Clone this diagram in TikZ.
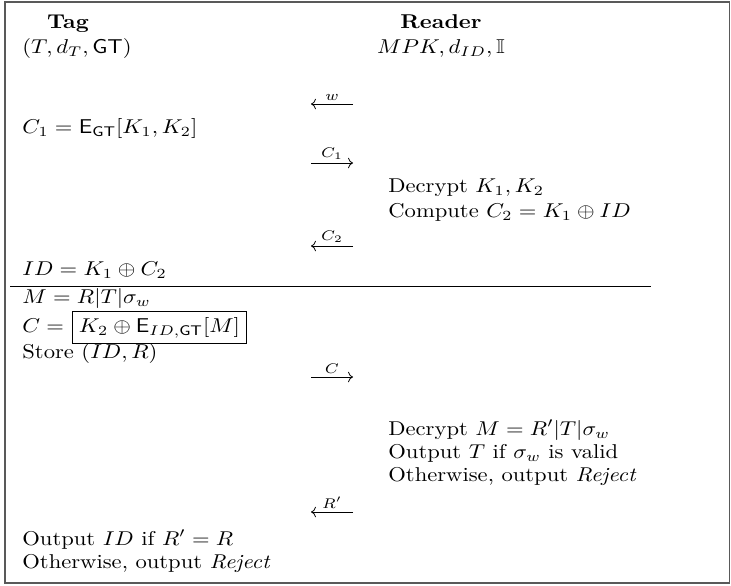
\documentclass[tikz,border=0pt]{standalone}
\usepackage{amsmath, amssymb}
\usepackage{graphicx}
\usepackage{tikz}
\usetikzlibrary{
  positioning,
  arrows.meta
}
% Text leicht in die Breite gezogen, wie in der Vorlage
\newcommand{\stretchx}[1]{\scalebox{1.13}[1]{#1}}

\begin{document}
\begin{tikzpicture}[
  x=0.5pt, y=-0.5pt,
  >={Computer Modern Rightarrow},
  txt/.style={anchor=base west, inner sep=0pt},
  head/.style={anchor=base, inner sep=0pt, font=\bfseries},
  msg/.style={->, line width=0.4pt},
  msglabel/.style={above=1.5pt, inner sep=0pt, font=\scriptsize}
]
  \useasboundingbox (0,0) rectangle (731,585);
  \draw[line width=0.9pt, black!65] (5,2) rectangle (729.5,583);

  % Kopfzeile
  \node[head] (tag) at (68,28) {\stretchx{Tag}};
  \node[head] (reader) at (441,28) {\stretchx{Reader}};
  \node[txt] (tagkeys) at (22,53) {\stretchx{$(T, d_T, \mathsf{GT})$}};
  \node[anchor=base, inner sep=0pt] (readerkeys) at (441,53) {\stretchx{$MPK, d_{ID}, \mathbb{I}$}};

  % erste Runde
  \coordinate (wR) at (353,104);
  \coordinate (wL) at (311,104);
  \draw[msg] (wR) -- (wL) node[msglabel, midway] (wlab) {\stretchx{$w$}};
  \node[txt] (cone) at (22,133) {\stretchx{$C_1 = \mathsf{E}_{\mathsf{GT}}[K_1, K_2]$}};
  \coordinate (coneL) at (311,163);
  \coordinate (coneR) at (353,163);
  \draw[msg] (coneL) -- (coneR) node[msglabel, midway] (conelab) {\stretchx{$C_1$}};
  \node[txt] (dec1) at (388,192) {\stretchx{Decrypt $K_1, K_2$}};
  \node[txt] (comp) at (388,217) {\stretchx{Compute $C_2 = K_1 \oplus ID$}};
  \coordinate (ctwoR) at (353,246);
  \coordinate (ctwoL) at (311,246);
  \draw[msg] (ctwoR) -- (ctwoL) node[msglabel, midway] (ctwolab) {\stretchx{$C_2$}};
  \node[txt] (idtag) at (22,275) {\stretchx{$ID = K_1 \oplus C_2$}};

  \coordinate (ruleL) at (10,286);
  \coordinate (ruleR) at (651,286);
  \draw[line width=0.5pt] (ruleL) -- (ruleR);

  % zweite Runde
  \node[txt] (msgm) at (22,303) {\stretchx{$M = R|T|\sigma_w$}};
  \node[txt] (ceq) at (22,332) {\stretchx{$C =$}};
  \node[draw, anchor=base west, inner sep=3pt, line width=0.5pt] (cbox)
    at ([xshift=4pt]ceq.base east) {\stretchx{$K_2 \oplus \mathsf{E}_{ID,\mathsf{GT}}[M]$}};
  \node[txt] (store) at (22,358) {\stretchx{Store $(ID, R)$}};
  \coordinate (cL) at (311,377);
  \coordinate (cR) at (353,377);
  \draw[msg] (cL) -- (cR) node[msglabel, midway] (clab) {\stretchx{$C$}};
  \node[txt] (dec2) at (388,435) {\stretchx{Decrypt $M = R'|T|\sigma_w$}};
  \node[txt] (outT) at (388,458) {\stretchx{Output $T$ if $\sigma_w$ is valid}};
  \node[txt] (rejR) at (388,481) {\stretchx{Otherwise, output \textit{Reject}}};
  \coordinate (rR) at (353,512);
  \coordinate (rL) at (311,512);
  \draw[msg] (rR) -- (rL) node[msglabel, midway] (rlab) {\stretchx{$R'$}};
  \node[txt] (outID) at (22,545) {\stretchx{Output $ID$ if $R' = R$}};
  \node[txt] (rejT) at (22,568) {\stretchx{Otherwise, output \textit{Reject}}};
\end{tikzpicture}
\end{document}
